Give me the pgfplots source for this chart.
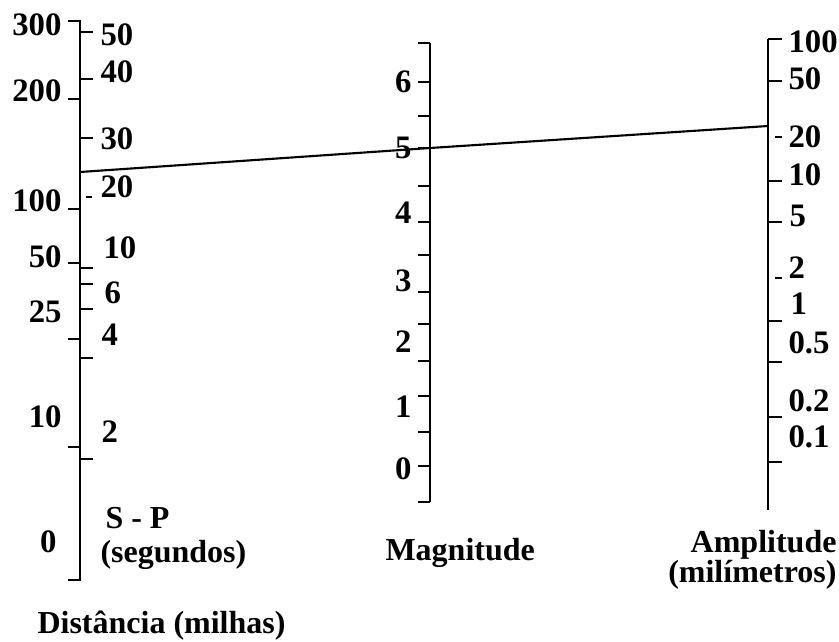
\documentclass[border=0pt]{standalone}
\usepackage{pgfplots}
\pgfplotsset{compat=1.18}
\usepackage{fontspec}
\setmainfont{Liberation Serif}
\begin{document}
\begin{tikzpicture}
\tikzset{lab/.style={font=\fontsize{13.1}{15}\selectfont\bfseries, inner sep=0pt, text=black},
         ttl/.style={font=\fontsize{12.8}{15}\selectfont\bfseries, inner sep=0pt, text=black}}
\begin{axis}[name=ax,
  width=335.6pt, height=256.4pt, scale only axis,
  xmin=0, xmax=839, ymin=0, ymax=641, y dir=reverse,
  hide axis, clip=false]
\pgfplotsset{ax/.style={black, line width=0.95pt, mark=none}}
% frame for size
\addplot[draw=none, mark=none] coordinates {(0,0) (839,641)};
% --- left scale (distance / S-P)
\addplot[ax] coordinates {(80,20) (80,581)};
\pgfplotsinvokeforeach{21,99,209,263,339,447,580}{
  \addplot[ax] coordinates {(68,#1) (80,#1)};
}
\pgfplotsinvokeforeach{32,79,138,268,284,309,358,459}{
  \addplot[ax] coordinates {(80,#1) (93,#1)};
}
\addplot[ax] coordinates {(86,197) (92,197)};
% --- middle scale (magnitude)
\addplot[ax] coordinates {(430,43) (430,502)};
\pgfplotsinvokeforeach{43,82,116,148,186,222,255,292,324,361,396,432,466,502}{
  \addplot[ax] coordinates {(418,#1) (430,#1)};
}
% --- right scale (amplitude)
\addplot[ax] coordinates {(768,39) (768,510)};
\pgfplotsinvokeforeach{39,81,181,222,321,362,417,462}{
  \addplot[ax] coordinates {(768,#1) (782,#1)};
}
\pgfplotsinvokeforeach{137,278}{
  \addplot[ax] coordinates {(775,#1) (782,#1)};
}
% --- the reading line
\addplot[black, line width=0.85pt, mark=none] coordinates {(80,172) (430,148) (768,126)};
% --- left labels (distance)
\node[lab, anchor=east] at (axis cs:62,25) {300};
\node[lab, anchor=east] at (axis cs:62,91) {200};
\node[lab, anchor=east] at (axis cs:62,201) {100};
\node[lab, anchor=east] at (axis cs:62,257) {50};
\node[lab, anchor=east] at (axis cs:62,312) {25};
\node[lab, anchor=east] at (axis cs:62,417) {10};
\node[lab, anchor=east] at (axis cs:57,542) {0};
% --- S-P labels
\node[lab, anchor=west] at (axis cs:100,35) {50};
\node[lab, anchor=west] at (axis cs:100,72) {40};
\node[lab, anchor=west] at (axis cs:100,139) {30};
\node[lab, anchor=west] at (axis cs:100,187) {20};
\node[lab, anchor=west] at (axis cs:103,248) {10};
\node[lab, anchor=west] at (axis cs:104,293) {6};
\node[lab, anchor=west] at (axis cs:101,335) {4};
\node[lab, anchor=west] at (axis cs:101,432) {2};
% --- magnitude labels
\node[lab, anchor=east] at (axis cs:412,82) {6};
\node[lab, anchor=east] at (axis cs:412,148) {5};
\node[lab, anchor=east] at (axis cs:412,213) {4};
\node[lab, anchor=east] at (axis cs:412,281) {3};
\node[lab, anchor=east] at (axis cs:412,342) {2};
\node[lab, anchor=east] at (axis cs:412,407) {1};
\node[lab, anchor=east] at (axis cs:412,469) {0};
% --- amplitude labels
\node[lab, anchor=west] at (axis cs:788,42) {100};
\node[lab, anchor=west] at (axis cs:788,79) {50};
\node[lab, anchor=west] at (axis cs:788,137) {20};
\node[lab, anchor=west] at (axis cs:788,175) {10};
\node[lab, anchor=west] at (axis cs:789,216) {5};
\node[lab, anchor=west] at (axis cs:788,268) {2};
\node[lab, anchor=west] at (axis cs:790,304) {1};
\node[lab, anchor=west] at (axis cs:788,343) {0.5};
\node[lab, anchor=west] at (axis cs:788,401) {0.2};
\node[lab, anchor=west] at (axis cs:788,437) {0.1};
% --- titles
\node[ttl, anchor=base west] at (axis cs:105,528) {S - P};
\node[ttl, anchor=base west] at (axis cs:100,562) {(segundos)};
\node[ttl, anchor=base west] at (axis cs:37,633) {Distância (milhas)};
\node[ttl, anchor=base west] at (axis cs:385,560) {Magnitude};
\node[ttl, anchor=base east] at (axis cs:837,552) {Amplitude};
\node[ttl, anchor=base east] at (axis cs:837,582) {(milímetros)};
\end{axis}
\pgfresetboundingbox
\path (ax.south west) rectangle (ax.north east);
\end{tikzpicture}
\end{document}
